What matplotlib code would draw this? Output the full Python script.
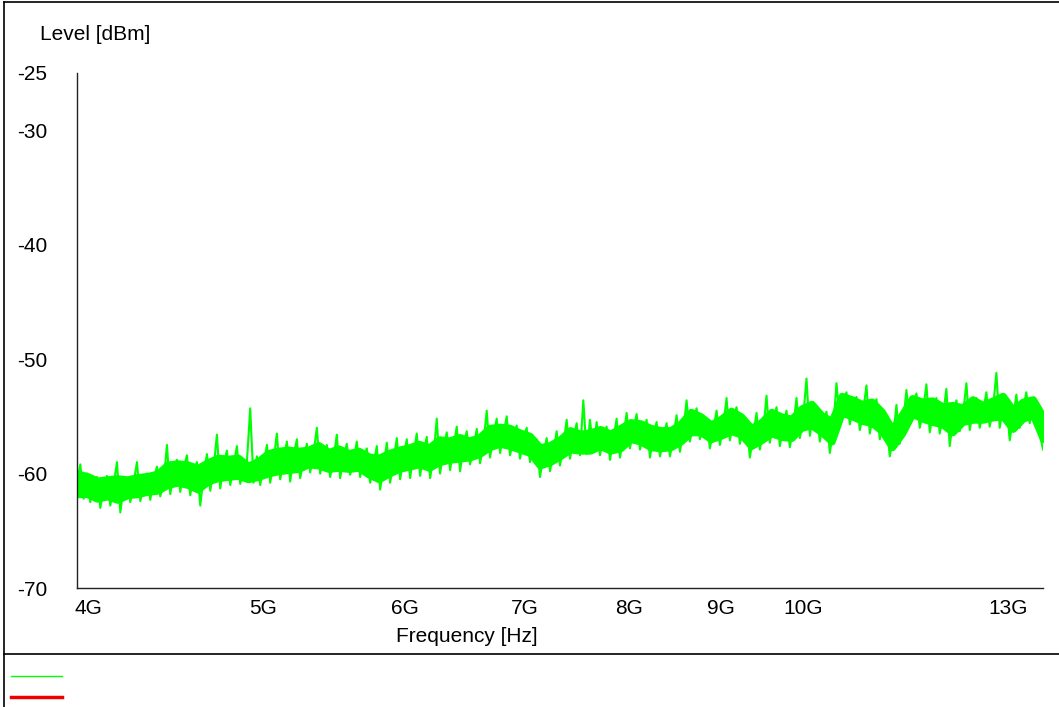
import numpy as np
import matplotlib
matplotlib.use("Agg")
import matplotlib.pyplot as plt
from matplotlib.lines import Line2D

plt.rcParams['font.family'] = ['Liberation Sans', 'DejaVu Sans']

# sweep limits [Hz]
f_start = 3.94e9
f_stop = 13.6e9

# trace level [dBm] (hi / lo / mid per ~10 px step)
level = [
    -60.8, -59.2, -62.2,  -60.0, -62.5, -60.6,  -60.3, -63.0, -61.3,  -60.2, -62.8, -61.0,
    -59.0, -63.4, -61.2,  -60.4, -62.5, -60.8,  -59.0, -62.4, -61.0,  -60.0, -62.3, -60.5,
    -59.4, -62.0, -60.8,  -57.5, -61.8, -59.8,  -58.8, -61.6, -59.5,  -58.4, -61.9, -59.9,
    -59.0, -62.8, -60.2,  -58.3, -61.5, -59.6,  -56.6, -61.3, -59.2,  -58.0, -61.0, -59.3,
    -57.6, -60.9, -59.6,  -59.0, -54.3, -60.8,  -58.5, -61.0, -59.4,  -57.5, -60.8, -58.9,
    -56.5, -60.5, -59.0,  -57.2, -60.7, -58.5,  -57.0, -60.4, -58.8,  -57.4, -59.9, -58.3,
    -56.0, -60.0, -58.5,  -57.5, -60.3, -58.7,  -56.6, -60.4, -58.6,  -57.4, -60.1, -58.9,
    -57.2, -60.3, -58.6,  -57.8, -60.8, -59.3,  -57.6, -61.4, -59.5,  -57.3, -60.8, -59.0,
    -56.9, -60.5, -58.7,  -57.0, -60.4, -58.4,  -56.5, -60.2, -58.2,  -56.8, -60.4, -58.6,
    -55.2, -60.0, -58.0,  -56.4, -59.7, -57.8,  -55.9, -59.8, -57.6,  -56.3, -59.2, -57.9,
    -56.1, -59.1, -57.4,  -54.5, -58.6, -56.8,  -55.2, -58.2, -56.6,  -55.0, -58.4, -56.9,
    -55.8, -58.7, -57.0,  -56.0, -59.0, -57.3,  -57.0, -60.3, -58.4,  -56.9, -59.8, -58.2,
    -56.3, -59.3, -57.6,  -55.3, -58.7, -57.0,  -55.6, -58.4, -53.6,  -58.3, -55.3, -57.9,
    -55.5, -58.4, -56.7,  -55.9, -58.8, -57.1,  -55.2, -58.6, -56.9,  -54.7, -57.8, -56.2,
    -54.8, -57.9, -56.4,  -55.3, -58.6, -56.8,  -55.5, -58.5, -57.0,  -55.6, -58.5, -56.9,
    -54.9, -58.1, -56.3,  -53.6, -57.2, -55.5,  -54.3, -57.0, -55.8,  -55.3, -57.8, -56.2,
    -54.5, -57.5, -55.9,  -53.4, -57.1, -55.4,  -54.2, -57.4, -55.8,  -55.3, -58.6, -56.7,
    -54.7, -57.9, -56.3,  -53.2, -57.3, -55.6,  -54.2, -57.6, -55.9,  -54.5, -57.7, -56.0,
    -53.4, -56.9, -55.1,  -51.7, -56.7, -54.8,  -54.2, -57.2, -55.6,  -54.6, -58.2, -56.2,
    -52.1, -55.5, -53.9,  -52.9, -55.7, -54.2,  -53.3, -56.2, -54.6,  -52.3, -56.5, -54.8,
    -53.5, -57.0, -55.6,  -55.3, -58.5, -56.9,  -54.0, -57.4, -55.6,  -52.7, -55.6, -54.0,
    -53.0, -56.0, -54.5,  -52.2, -56.4, -54.6,  -53.4, -56.5, -54.9,  -52.6, -57.6, -55.2,
    -53.6, -56.3, -54.8,  -52.1, -56.2, -54.5,  -53.4, -56.0, -54.6,  -52.9, -55.9, -54.3,
    -51.2, -56.0, -54.1,  -53.6, -57.1, -55.2,  -53.1, -56.0, -54.4,  -52.9, -55.6, -54.2,
    -54.2, -56.5, -57.9,
]

# dense core of the trace [dBm], one pair per ~10 px step
core_hi = [
    -60.0, -60.2, -60.6, -60.5, -60.4, -60.5, -60.3, -60.2, -60.0, -59.2, -59.1, -59.2,
    -59.5, -59.0, -58.6, -58.7, -58.6, -59.3, -58.9, -58.2, -58.0, -57.9, -58.0, -57.9,
    -57.5, -58.1, -57.8, -58.2, -58.0, -58.5, -58.6, -58.2, -57.9, -57.7, -57.4, -57.7,
    -57.0, -57.1, -56.8, -57.1, -56.8, -56.0, -55.9, -56.0, -56.4, -56.7, -57.7, -57.5,
    -57.0, -56.2, -56.5, -56.4, -56.1, -56.5, -56.0, -55.5, -55.6, -56.0, -56.2, -56.2,
    -55.6, -54.6, -55.0, -55.7, -55.2, -54.5, -55.0, -56.0, -55.5, -54.6, -55.0, -55.2,
    -54.3, -53.9, -54.9, -55.4, -53.2, -53.5, -53.9, -53.7, -54.6, -56.1, -54.8, -53.4,
    -53.7, -53.6, -54.1, -54.0, -54.2, -53.5, -54.0, -53.6, -53.2, -54.4, -53.7, -53.5,
    -55.0,
]
core_lo = [
    -61.8, -61.8, -62.2, -62.0, -62.3, -61.9, -61.8, -61.6, -61.5, -61.0, -60.8, -61.0,
    -61.4, -60.7, -60.4, -60.3, -60.2, -60.5, -60.3, -60.0, -59.8, -59.7, -59.6, -59.2,
    -59.3, -59.6, -59.5, -59.6, -59.5, -60.1, -60.5, -60.0, -59.6, -59.4, -59.2, -59.5,
    -59.0, -58.8, -58.7, -58.6, -58.3, -57.7, -57.4, -57.6, -57.9, -58.2, -59.3, -59.0,
    -58.5, -57.9, -58.0, -58.0, -57.6, -58.0, -57.8, -57.0, -57.2, -57.7, -57.8, -57.7,
    -57.2, -56.4, -56.4, -57.0, -56.7, -56.3, -56.6, -57.6, -57.1, -56.5, -56.8, -56.9,
    -56.0, -55.8, -56.4, -57.2, -54.7, -55.0, -55.4, -55.6, -56.3, -57.7, -56.5, -54.8,
    -55.2, -55.5, -55.7, -56.4, -55.5, -55.3, -55.3, -55.1, -55.0, -56.1, -55.2, -54.9,
    -57.0,
]

freq = np.geomspace(f_start, f_stop, len(level))
freq_core = np.geomspace(f_start, f_stop, len(core_hi))

xticks = [4e9, 5e9, 6e9, 7e9, 8e9, 9e9, 10e9, 13e9]
xticklabels = ["4G", "5G", "6G", "7G", "8G", "9G", "10G", "13G"]
yticks = [-25, -30, -40, -50, -60, -70]

fig = plt.figure(figsize=(10.59, 7.07), dpi=100)
ax = fig.add_axes([77/1059, 1-588/707, (1043-77)/1059, (588-73)/707])

green = "#00ff00"
ax.fill_between(freq_core, core_lo, core_hi, facecolor=green, edgecolor=green,
                lw=5, joinstyle="round")
ax.plot(freq, level, color=green, lw=1.5)

ax.set_xscale("log")
ax.set_xlim(f_start, f_stop)
ax.set_ylim(-70, -25)
ax.set_xticks(xticks)
ax.set_xticklabels(xticklabels)
ax.minorticks_off()
ax.set_yticks(yticks)
ax.set_yticklabels([str(v) for v in yticks])
ax.tick_params(axis="both", length=0, labelsize=15)
ax.tick_params(axis="x", pad=8)
ax.tick_params(axis="y", pad=43)
for lbl in ax.get_yticklabels():
    lbl.set_ha("left")

for s in ["top", "right"]:
    ax.spines[s].set_visible(False)
for s in ["left", "bottom"]:
    ax.spines[s].set_color("#222222")
    ax.spines[s].set_linewidth(1.0)
    ax.spines[s].set_zorder(3)

fig.text(40/1059, 1-35/707, "Level [dBm]", fontsize=15, va="center", ha="left")
fig.text(467/1059, 1-636/707, "Frequency [Hz]", fontsize=15, va="center", ha="center")

# frame lines
fig.add_artist(Line2D([4/1059, 1], [1-2/707, 1-2/707], color="black", lw=1.2))
fig.add_artist(Line2D([4/1059, 4/1059], [0, 1-2/707], color="black", lw=1.2))
fig.add_artist(Line2D([4/1059, 1], [1-654/707, 1-654/707], color="black", lw=1.2))

# legend swatches
fig.add_artist(Line2D([11/1059, 62/1059], [1-676/707, 1-676/707], color=green, lw=1.0))
fig.add_artist(Line2D([11/1059, 62/1059], [1-697/707, 1-697/707], color="#ee0000", lw=2.5))

fig.savefig("out.png", dpi=100)
